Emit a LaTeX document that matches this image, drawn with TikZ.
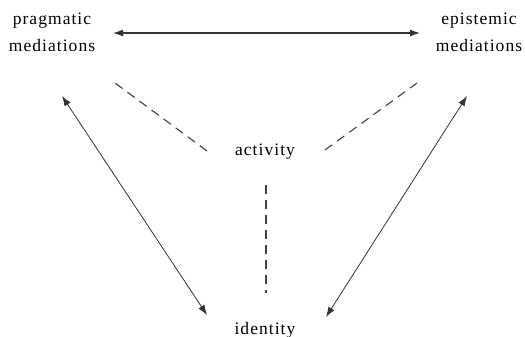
\documentclass[tikz,border=0pt]{standalone}
\usepackage{fontspec}
\setmainfont{Liberation Serif}
\newfontfamily\lblfont{Liberation Serif}[LetterSpace=6]
\usetikzlibrary{arrows.meta}
\begin{document}
\begin{tikzpicture}[x=1pt,y=-1pt,>={Latex[length=10pt,width=7pt]},
    font=\lblfont\fontsize{17.5}{27}\selectfont, line join=round,
    lbl/.style={inner sep=0pt, align=center},
    link/.style={<->, draw=black!80, line width=0.8pt},
    spoke/.style={draw=black!75, line width=1.1pt, dash pattern=on 9pt off 6pt}]
        \useasboundingbox (0,0) rectangle (525,337);
        % labels
        \node[lbl] (prag) at (52,32) {pragmatic\\mediations};
        \node[lbl] (epi) at (479,32) {epistemic\\mediations};
        \node[lbl] (act) at (265,152) {activity};
        \node[lbl] (iden) at (265,330) {identity};
        % mediations
        \draw[link, line width=1.2pt] ([shift={(61,1)}]prag.center) -- ([shift={(-59,1)}]epi.center);
        \draw[link] ([shift={(10,64)}]prag.center) -- ([shift={(-58,-15)}]iden.center);
        \draw[link] ([shift={(-12,64)}]epi.center) -- ([shift={(61,-13)}]iden.center);
        % activity
        \draw[spoke] ([shift={(-58,-1)}]act.center) -- ([shift={(63,51)}]prag.center);
        \draw[spoke] ([shift={(60,-2)}]act.center) -- ([shift={(-62,51)}]epi.center);
        \draw[spoke] ([shift={(1,33)}]act.center) -- ([shift={(1,-37)}]iden.center);
\end{tikzpicture}
\end{document}
